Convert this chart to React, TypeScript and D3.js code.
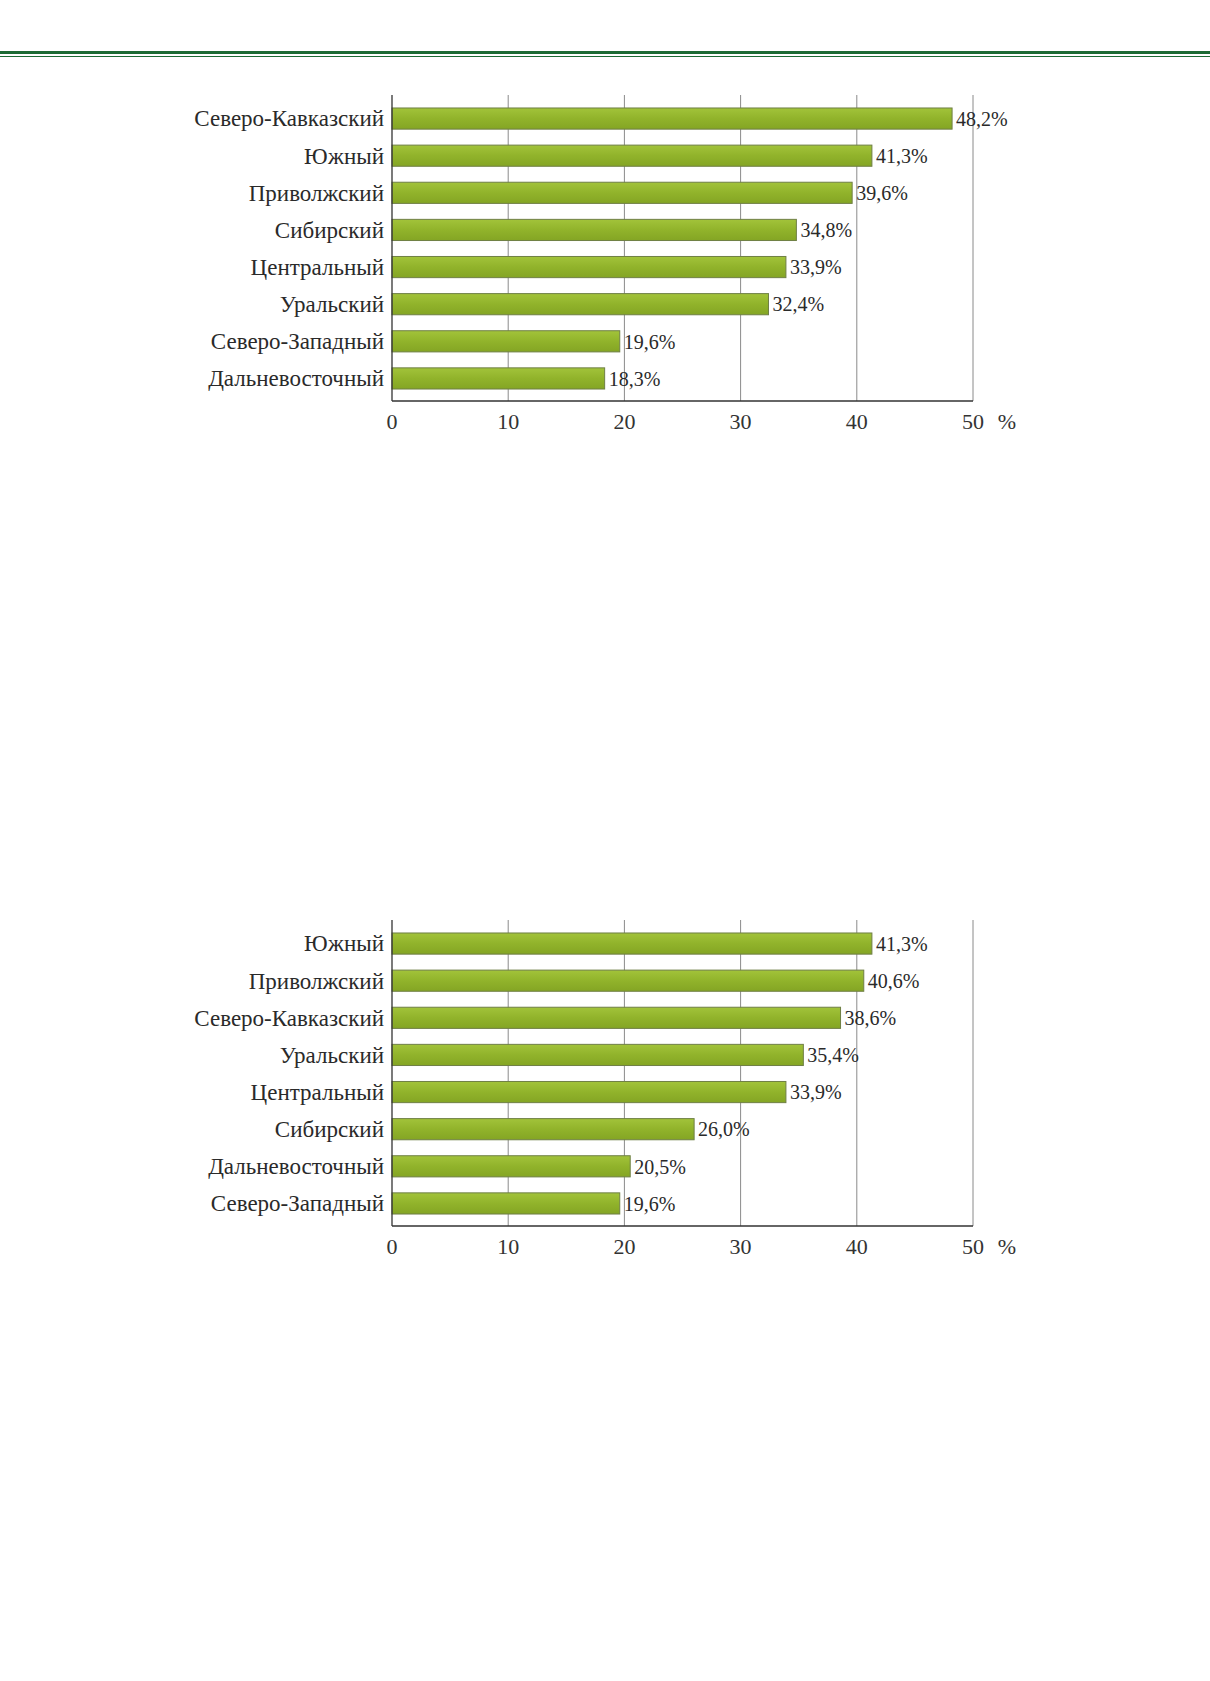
import React from "react";
import * as d3 from "d3";

const regionsTop = [
  "Северо-Кавказский",
  "Южный",
  "Приволжский",
  "Сибирский",
  "Центральный",
  "Уральский",
  "Северо-Западный",
  "Дальневосточный",
];
const valuesTop = [48.2, 41.3, 39.6, 34.8, 33.9, 32.4, 19.6, 18.3];

const regionsBottom = [
  "Южный",
  "Приволжский",
  "Северо-Кавказский",
  "Уральский",
  "Центральный",
  "Сибирский",
  "Дальневосточный",
  "Северо-Западный",
];
const valuesBottom = [41.3, 40.6, 38.6, 35.4, 33.9, 26.0, 20.5, 19.6];

const xTicks = [0, 10, 20, 30, 40, 50];

const W = 1210;
const H = 1681;
const FONT = "'Liberation Serif', 'Times New Roman', serif";

interface BarChartProps {
  id: string;
  top: number;
  categories: string[];
  values: number[];
}

const x = d3.scaleLinear().domain([0, 50]).range([392, 973]);

const BarChart: React.FC<BarChartProps> = ({ id, top, categories, values }) => {
  const axisTop = top;
  const axisBottom = top + 306;
  const y = d3
    .scaleBand<string>()
    .domain(categories)
    .range([axisTop + 5, axisBottom - 4])
    .paddingInner(0.43)
    .paddingOuter(0.215);

  const fmt = (v: number) => v.toFixed(1).replace(".", ",") + "%";

  return (
    <g>
      <defs>
        <linearGradient id={`grad-${id}`} x1="0" y1="0" x2="0" y2="1">
          <stop offset="0%" stopColor="#a2c33a" />
          <stop offset="50%" stopColor="#91b32b" />
          <stop offset="100%" stopColor="#84a524" />
        </linearGradient>
      </defs>
      {xTicks.slice(1).map((t) => (
        <line
          key={t}
          x1={x(t)}
          x2={x(t)}
          y1={axisTop}
          y2={axisBottom}
          stroke="#8a8a8a"
          strokeWidth={1}
        />
      ))}
      {categories.map((c, i) => (
        <g key={c}>
          <rect
            x={x(0)}
            y={y(c)!}
            width={x(values[i]) - x(0)}
            height={y.bandwidth()}
            fill={`url(#grad-${id})`}
            stroke="#6f7f45"
            strokeWidth={1}
          />
          <text
            x={x(0) - 8}
            y={y(c)! + y.bandwidth() / 2}
            dy="0.34em"
            textAnchor="end"
            fontFamily={FONT}
            fontSize={23}
            fill="#2a2a2a"
          >
            {c}
          </text>
          <text
            x={x(values[i]) + 4}
            y={y(c)! + y.bandwidth() / 2}
            dy="0.36em"
            fontFamily={FONT}
            fontSize={20}
            fill="#2a2a2a"
          >
            {fmt(values[i])}
          </text>
        </g>
      ))}
      <line x1={x(0)} x2={x(0)} y1={axisTop} y2={axisBottom} stroke="#333" strokeWidth={1.3} />
      <line x1={x(0)} x2={x(50)} y1={axisBottom} y2={axisBottom} stroke="#333" strokeWidth={1.3} />
      {xTicks.map((t) => (
        <text
          key={t}
          x={x(t)}
          y={axisBottom + 21}
          dy="0.34em"
          textAnchor="middle"
          fontFamily={FONT}
          fontSize={22}
          fill="#333"
        >
          {t}
        </text>
      ))}
      <text
        x={x(50) + 34}
        y={axisBottom + 21}
        dy="0.34em"
        textAnchor="middle"
        fontFamily={FONT}
        fontSize={22}
        fill="#333"
      >
        %
      </text>
    </g>
  );
};

export default function App() {
  return (
    <svg
      width={W}
      height={H}
      style={{ position: "absolute", left: 0, top: 0, background: "#fff" }}
    >
      <rect x={0} y={0} width={W} height={H} fill="#fff" />
      <line x1={0} x2={W} y1={52.5} y2={52.5} stroke="#1c6a34" strokeWidth={3} />
      <line x1={0} x2={W} y1={56.5} y2={56.5} stroke="#1c6a34" strokeWidth={1} />
      <BarChart id="a" top={95} categories={regionsTop} values={valuesTop} />
      <BarChart id="b" top={920} categories={regionsBottom} values={valuesBottom} />
    </svg>
  );
}
